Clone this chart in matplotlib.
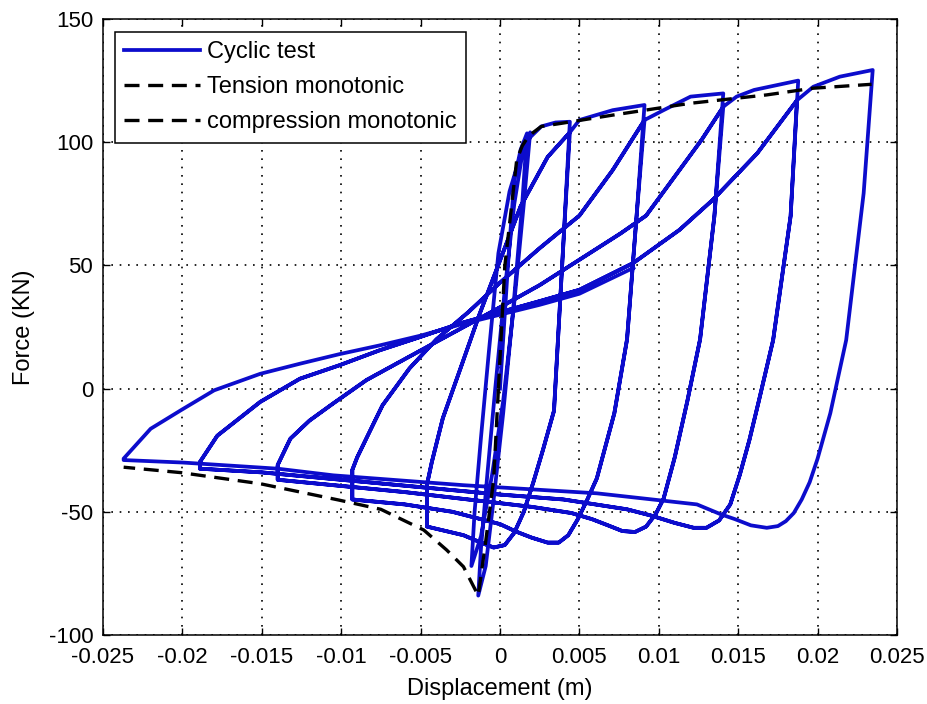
import matplotlib
matplotlib.use("Agg")
import matplotlib.pyplot as plt
import numpy as np

# ---------------- data ----------------
# first small elastic / buckling cycles near the origin
small_x = [0, 0.0005, 0.0009, 0.0013, 0.0017, 0.0014, 0.0008, 0.0002, -0.0004, -0.0009,
           -0.00137, -0.0012, -0.0008, -0.0003, 0.0003, 0.0009, 0.0014, 0.0019, 0.0015,
           0.0009, 0.0002, -0.0005, -0.0012, -0.0018]
small_y = [0, 50, 85, 97, 103.6, 75, 30, -10, -45, -72,
           -84, -65, -35, 0, 40, 75, 95, 104, 75,
           35, -5, -35, -60, -72]
first_x = [-0.0016, -0.0012, -0.0007, -0.0001, 0.0006, 0.0013, 0.0019, 0.0026, 0.0035, 0.0044]
first_y = [-50, -20, 15, 55, 80, 95, 102, 106.4, 108, 108.3]

# amplitude 0.0044
unl_a1_x = [0.0044, 0.0040, 0.0034, 0.0027, 0.0021, 0.0015, 0.0009, 0.0003, -0.0004, -0.0012,
            -0.0023, -0.0046]
unl_a1_y = [108.3, 60, -9, -25, -38, -50, -58.5, -63.5, -64.5, -62.5,
            -59.5, -56]
rise_a1_x = [-0.0046, -0.0043, -0.0036, -0.0025, -0.0013, 0.0, 0.0013, 0.0030, 0.0044]
rise_a1_y = [-39, -30, -12, 8, 30, 52, 74, 94, 104]

# amplitude 0.0091
ext_a2_x = [0.0050, 0.0071, 0.0091]
ext_a2_y = [109, 113, 115.1]
unl_a2_x = [0.0091, 0.0086, 0.0080, 0.0072, 0.0061, 0.0055, 0.0049, 0.0043, 0.0037, 0.0030,
            0.0020, 0.0010, 0.0, -0.0030, -0.0060, -0.0093]
unl_a2_y = [115.1, 70, 20, -10, -36.4, -45, -53, -59.5, -62.5, -62.5,
            -60.5, -58, -55, -50, -47, -45]
rise_a2_x = [-0.0093, -0.0090, -0.0084, -0.0074, -0.0057, -0.0040, -0.0020, 0.0, 0.0025,
             0.0050, 0.0071, 0.0091]
rise_a2_y = [-33, -28, -20, -6.8, 8.2, 20, 31, 43, 57,
             70.2, 88.7, 109]

# amplitude 0.014
ext_a3_x = [0.0103, 0.0120, 0.01406]
ext_a3_y = [113, 118.5, 119.8]
unl_a3_x = [0.01406, 0.0135, 0.0126, 0.0118, 0.0110, 0.0103, 0.0098, 0.0092, 0.0085, 0.0077,
            0.0068, 0.0058, 0.0045, 0.0020, -0.0020, -0.0060, -0.0100, -0.0140]
unl_a3_y = [119.8, 70, 20, -5, -28, -44.7, -51, -56, -58.2, -57.8,
            -55.5, -53, -50.5, -48, -45, -42, -39.5, -37]
rise_a3_x = [-0.0140, -0.0132, -0.0120, -0.0105, -0.0084, -0.0063, -0.0040, -0.0020, 0.0,
             0.0025, 0.0050, 0.0076, 0.0092, 0.0113, 0.0127, 0.01406]
rise_a3_y = [-31, -20.3, -13, -6, 3.5, 10.9, 19, 26, 33,
             42, 52.3, 63, 70.2, 88.7, 101, 114.4]

# amplitude 0.019
ext_a4_x = [0.0149, 0.0160, 0.01878]
ext_a4_y = [118.5, 121.2, 125]
unl_a4_x = [0.01878, 0.0183, 0.0172, 0.0163, 0.0157, 0.0151, 0.0145, 0.0138, 0.0130, 0.0122,
            0.0110, 0.0095, 0.0080, 0.0040, 0.0, -0.0050, -0.0100, -0.0150, -0.0189]
unl_a4_y = [125, 70, 19.7, -5, -21, -35, -47, -53.5, -56.5, -56.5,
            -54.5, -51.5, -49, -45, -43, -40, -37, -34, -32.5]
rise_a4_x = [-0.0189, -0.0178, -0.0151, -0.0126, -0.0101, -0.0076, -0.0050, -0.0025, 0.0,
             0.0025, 0.0050, 0.0084, 0.0113, 0.0134, 0.0162, 0.0187]
rise_a4_y = [-29.8, -19.1, -5.4, 4, 9.5, 15.5, 21, 26.5, 31,
             35.5, 40.1, 51, 64.4, 76.6, 95.5, 117]

# amplitude 0.0235
ext_a5_x = [0.01973, 0.0214, 0.02347]
ext_a5_y = [122.5, 126.6, 129.3]
unl_a5_x = [0.02347, 0.0229, 0.0218, 0.0208, 0.0200, 0.0195, 0.0190, 0.0185, 0.0180, 0.0175,
            0.0168, 0.0158, 0.0148, 0.0139, 0.0124, 0.0061, -0.0023, -0.0105, -0.0140,
            -0.0200, -0.0237]
unl_a5_y = [129.3, 79.3, 19.7, -10, -28.4, -38, -45, -50.5, -53.8, -55.8,
            -56.5, -55.5, -53, -51, -47, -42.5, -39.2, -35.2, -32.5,
            -30, -29]
rise_a5_x = [-0.0237, -0.0220, -0.0201, -0.0180, -0.0151, -0.0126, -0.0101, -0.0076, -0.0050,
             -0.0025, 0.0, 0.0025, 0.0050, 0.0084]
rise_a5_y = [-28.4, -16.3, -8.8, -0.7, 6, 10.1, 14, 17.5, 21.5,
             26, 30, 34, 38.5, 49]

# monotonic envelopes
tens_x = [-0.0001, 0.0003, 0.00084, 0.00105, 0.0014, 0.0017, 0.0021, 0.0026, 0.0040, 0.0071,
          0.0120, 0.0168, 0.0197, 0.0234]
tens_y = [0, 49.5, 80.5, 92.7, 98.5, 101.5, 104, 106.4, 107.8, 111,
          115.8, 119.2, 121.9, 123.5]
comp_x = [-0.0001, -0.0004, -0.0009, -0.00137, -0.0023, -0.00336, -0.0048, -0.0075, -0.0101,
          -0.0151, -0.0201, -0.0237]
comp_y = [0, -37, -62, -84, -72.3, -65.5, -57.4, -49, -45.3, -38.6, -34.1, -31.9]

x_ticks = [-0.025, -0.02, -0.015, -0.01, -0.005, 0, 0.005, 0.01, 0.015, 0.02, 0.025]
x_ticklabels = ['-0.025', '-0.02', '-0.015', '-0.01', '-0.005', '0', '0.005', '0.01',
                '0.015', '0.02', '0.025']
y_ticks = [-100, -50, 0, 50, 100, 150]
y_ticklabels = ['-100', '-50', '0', '50', '100', '150']
legend_labels = ['Cyclic test', 'Tension monotonic', 'compression monotonic']

# --------------- assemble the cyclic test path (test sequence) ---------------
pieces = [
    (small_x, small_y), (first_x, first_y), (unl_a1_x, unl_a1_y),
    (rise_a1_x, rise_a1_y), (unl_a1_x[1:], unl_a1_y[1:]),
    (rise_a1_x, rise_a1_y), (ext_a2_x, ext_a2_y), (unl_a2_x, unl_a2_y),
    (rise_a2_x, rise_a2_y), (unl_a2_x[1:], unl_a2_y[1:]),
    (rise_a2_x, rise_a2_y), (ext_a3_x, ext_a3_y), (unl_a3_x, unl_a3_y),
    (rise_a3_x, rise_a3_y), (unl_a3_x[1:], unl_a3_y[1:]),
    (rise_a3_x, rise_a3_y), (ext_a4_x, ext_a4_y), (unl_a4_x, unl_a4_y),
    (rise_a4_x, rise_a4_y), (unl_a4_x[1:], unl_a4_y[1:]),
    (rise_a4_x, rise_a4_y), (ext_a5_x, ext_a5_y), (unl_a5_x, unl_a5_y),
    (rise_a5_x, rise_a5_y),
]
cyc_x = np.concatenate([np.asarray(p[0], float) for p in pieces])
cyc_y = np.concatenate([np.asarray(p[1], float) for p in pieces])

# ---------------- figure ----------------
plt.rcParams['font.family'] = ['Liberation Sans', 'DejaVu Sans']
fig = plt.figure(figsize=(9.28, 7.04), dpi=100)
ax = fig.add_axes([103 / 928, 69 / 704, 794 / 928, 616 / 704])

blue = '#0C0CCC'
l1, = ax.plot(cyc_x, cyc_y, color=blue, lw=2.7, solid_joinstyle='round', zorder=3)
l2, = ax.plot(tens_x, tens_y, color='black', lw=2.4, ls=(0, (4.5, 2.6)), zorder=4)
l3, = ax.plot(comp_x, comp_y, color='black', lw=2.4, ls=(0, (4.5, 2.6)), zorder=4)

ax.set_xlim(-0.025, 0.025)
ax.set_ylim(-100, 150)
ax.set_xticks(x_ticks)
ax.set_xticklabels(x_ticklabels)
ax.set_yticks(y_ticks)
ax.set_yticklabels(y_ticklabels)
ax.tick_params(direction='in', length=5, width=1, top=True, right=True,
               labelsize=16)
ax.tick_params(axis='x', pad=8.5)
ax.tick_params(axis='y', pad=7)
for s in ax.spines.values():
    s.set_linewidth(1.1)
ax.grid(True, color='black', lw=1.2, ls=(0, (1, 4)))
ax.set_axisbelow(True)

ax.set_xlabel('Displacement (m)', fontsize=17, labelpad=7)
ax.set_ylabel('Force (KN)', fontsize=17, labelpad=10)

leg = ax.legend([l1, l2, l3], legend_labels, loc='upper left',
                bbox_to_anchor=(12 / 794, 1 - 13 / 616), borderaxespad=0,
                fontsize=17, frameon=True, fancybox=False, framealpha=1,
                edgecolor='black', handlelength=3.2, handletextpad=0.3,
                labelspacing=0.55, borderpad=0.4)
leg.get_frame().set_linewidth(1.1)

fig.savefig('out.png', dpi=100)
